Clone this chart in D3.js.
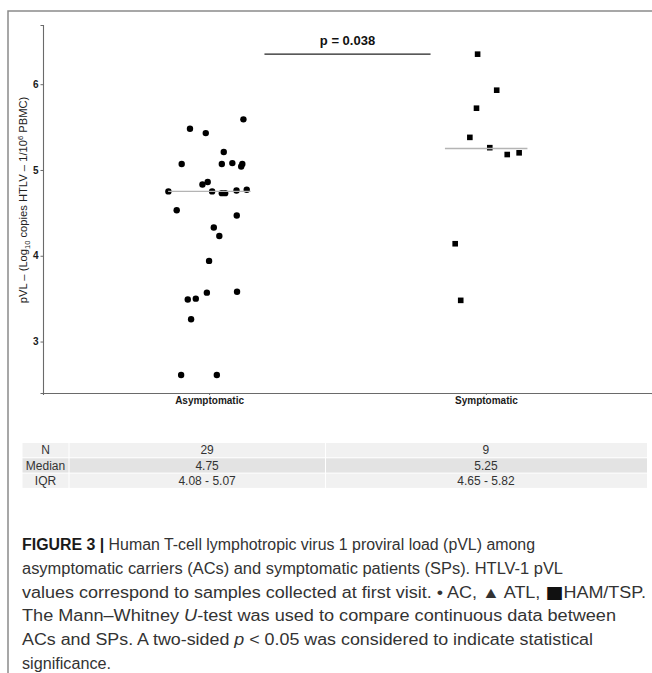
<!DOCTYPE html>
<html>
<head>
<meta charset="utf-8">
<script src="https://cdn.jsdelivr.net/npm/d3@7"></script>
<style>
  body { margin: 0; background: #fff; }
  svg { display: block; }
</style>
</head>
<body>
<svg id="fig" width="652" height="673"></svg>
<script>

// ---- data ----
var categories = ["Asymptomatic", "Symptomatic"];

// asymptomatic carriers (circles), pVL and horizontal jitter (category units)
var acValues = [5.59, 5.48, 5.43, 5.21, 5.07, 5.07, 5.08, 5.07, 5.04, 4.83,
                4.86, 4.75, 4.75, 4.73, 4.73, 4.76, 4.77, 4.53, 4.47, 4.33,
                4.23, 3.94, 3.49, 3.50, 3.57, 3.58, 3.26, 2.61, 2.61];
var acJitter = [0.124, -0.069, -0.012, 0.053, -0.099, 0.046, 0.084, 0.120, 0.116, -0.024,
                -0.005, -0.147, 0.011, 0.046, 0.058, 0.099, 0.136, -0.117, 0.100, 0.017,
                0.037, 0.000, -0.077, -0.048, -0.008, 0.101, -0.065, -0.101, 0.028];

// symptomatic patients (squares, HAM/TSP)
var spValues = [6.35, 5.93, 5.72, 5.38, 5.26, 5.18, 5.20, 4.14, 3.48];
var spJitter = [-0.030, 0.039, -0.034, -0.058, 0.014, 0.077, 0.120, -0.111, -0.091];

var medians = [4.75, 5.25];
var yTicks = [3, 4, 5, 6];
var pLabel = "p = 0.038";

var tableRows = ["N", "Median", "IQR"];
var tableAC = ["29", "4.75", "4.08 - 5.07"];
var tableSP = ["9", "5.25", "4.65 - 5.82"];


var svg = d3.select("#fig");

// figure frame (top + left border)
svg.append("path")
   .attr("d", "M8,673V11H652")
   .attr("fill", "none")
   .attr("stroke", "#8a8a8a")
   .attr("stroke-width", 1.5);

//========= scales
var x = d3.scaleLinear().domain([0.4, 2.6]).range([43, 652]);
var y = d3.scaleLinear().domain([2.4, 6.69]).range([393, 25]);

//========= axes
var yAxis = svg.append("g")
   .attr("transform", "translate(43,0)")
   .call(d3.axisLeft(y).tickValues(yTicks).tickSize(2.5).tickPadding(2).tickFormat(d3.format("d")));

var xAxis = svg.append("g")
   .attr("transform", "translate(0,393)")
   .call(d3.axisBottom(x).tickValues([1, 2]).tickSize(2).tickPadding(2)
            .tickFormat(function(d) { return categories[d - 1]; }));

[yAxis, xAxis].forEach(function(a) {
  a.select(".domain").attr("stroke", "#6a6a6a").attr("stroke-width", 1.1);
  a.selectAll(".tick line").attr("stroke", "#6a6a6a");
  a.selectAll(".tick text")
   .attr("fill", "#1a1a1a")
   .style("font-family", "Liberation Sans, Arial, sans-serif")
   .style("font-weight", "bold")
   .style("font-size", "10px");
});

// y title
var yt = svg.append("text")
   .attr("transform", "translate(27,200) rotate(-90)")
   .attr("text-anchor", "middle")
   .attr("fill", "#222")
   .style("font-family", "Liberation Sans, Arial, sans-serif")
   .style("font-size", "11.2px");
yt.append("tspan").text("pVL \u2013 (Log");
yt.append("tspan").attr("dy", 2.8).style("font-size", "7.5px").text("10");
yt.append("tspan").attr("dy", -2.8).text(" copies HTLV \u2013 1/10");
yt.append("tspan").attr("dy", -4).style("font-size", "7.5px").text("6");
yt.append("tspan").attr("dy", 4).text(" PBMC)");

//========= points
var acData = acValues.map(function(v, i) { return {x: 1 + acJitter[i], v: v}; });
var spData = spValues.map(function(v, i) { return {x: 2 + spJitter[i], v: v}; });

svg.selectAll("circle.ac")
   .data(acData)
   .enter()
   .append("circle")
   .attr("class", "ac")
   .attr("cx", function(d) { return x(d.x); })
   .attr("cy", function(d) { return y(d.v); })
   .attr("r", 3.2)
   .attr("fill", "#000");

var sq = 5.6;
svg.selectAll("rect.sp")
   .data(spData)
   .enter()
   .append("rect")
   .attr("class", "sp")
   .attr("x", function(d) { return x(d.x) - sq / 2; })
   .attr("y", function(d) { return y(d.v) - sq / 2; })
   .attr("width", sq)
   .attr("height", sq)
   .attr("fill", "#000");

// median lines
svg.selectAll("line.med")
   .data(medians)
   .enter()
   .append("line")
   .attr("class", "med")
   .attr("x1", function(d, i) { return x(i + 1 - 0.148); })
   .attr("x2", function(d, i) { return x(i + 1 + 0.15); })
   .attr("y1", function(d) { return y(d); })
   .attr("y2", function(d) { return y(d); })
   .attr("stroke", "#b4b4b4")
   .attr("stroke-width", 1.3);

// significance bar
var barY = y(6.35);
svg.append("line")
   .attr("x1", x(1.2)).attr("x2", x(1.8))
   .attr("y1", barY).attr("y2", barY)
   .attr("stroke", "#222")
   .attr("stroke-width", 1.3);
svg.append("text")
   .attr("x", (x(1.2) + x(1.8)) / 2)
   .attr("y", barY - 9)
   .attr("text-anchor", "middle")
   .attr("fill", "#111")
   .style("font-family", "Liberation Sans, Arial, sans-serif")
   .style("font-weight", "bold")
   .style("font-size", "13px")
   .text(pLabel);

//========= summary table
var rowTop = 442.5, rowH = 15.3;
var cols = [{x0: 22.5, x1: 68.5}, {x0: 69.5, x1: 325}, {x0: 326, x1: 647}];
var rowFill = ["#f1f1f1", "#e3e3e3", "#f1f1f1"];

tableRows.forEach(function(r, i) {
  var yy = rowTop + i * rowH;
  cols.forEach(function(c) {
    svg.append("rect")
       .attr("x", c.x0).attr("y", yy + 0.5)
       .attr("width", c.x1 - c.x0).attr("height", rowH - 1)
       .attr("fill", rowFill[i]);
  });
  var cells = [[45.5, r], [x(1) - 2, tableAC[i]], [x(2), tableSP[i]]];
  cells.forEach(function(c) {
    svg.append("text")
       .attr("x", c[0]).attr("y", yy + rowH / 2 + 4.3)
       .attr("text-anchor", "middle")
       .attr("fill", "#333")
       .style("font-family", "Liberation Sans, Arial, sans-serif")
       .style("font-size", "12px")
       .text(c[1]);
  });
});

//========= caption
var capLines = [
  [["b", "FIGURE 3 | "], ["n", "Human T-cell lymphotropic virus 1 proviral load (pVL) among"]],
  [["n", "asymptomatic carriers (ACs) and symptomatic patients (SPs). HTLV-1 pVL"]],
  [["n", "values correspond to samples collected at first visit. \u2022 AC, \u25B2 ATL, "], ["s", "\u25A0"], ["n", "HAM/TSP."]],
  [["n", "The Mann\u2013Whitney "], ["i", "U"], ["n", "-test was used to compare continuous data between"]],
  [["n", "ACs and SPs. A two-sided "], ["i", "p"], ["n", " < 0.05 was considered to indicate statistical"]],
  [["n", "significance."]]
];
var capWidths = [513, 541, 624, 594, 571, 89];

capLines.forEach(function(line, i) {
  var t = svg.append("text")
     .attr("x", 22)
     .attr("y", 550 + i * 23.8)
     .attr("fill", "#333")
     .style("font-family", "Liberation Sans, Arial, sans-serif")
     .style("font-size", "16px");
  line.forEach(function(seg) {
    var s = t.append("tspan").text(seg[1]);
    if (seg[0] == "b") s.style("font-weight", "bold").attr("fill", "#1a1a1a");
    if (seg[0] == "i") s.style("font-style", "italic");
    if (seg[0] == "s") s.style("font-family", "DejaVu Sans, sans-serif").style("font-size", "17px").attr("fill", "#111");
  });
  t.attr("textLength", capWidths[i]).attr("lengthAdjust", "spacingAndGlyphs");
});

</script>
</body>
</html>
